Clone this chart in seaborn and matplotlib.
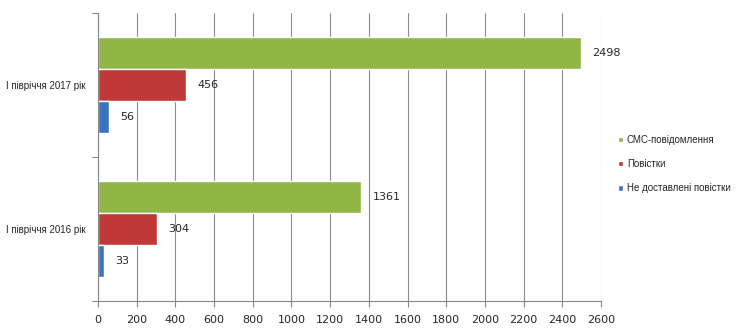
import matplotlib
matplotlib.use("Agg")
import matplotlib.pyplot as plt
import seaborn as sns
import pandas as pd
from matplotlib.ticker import FixedLocator

categories = ["І півріччя 2017 рік", "І півріччя 2016 рік"]
series = ["СМС-повідомлення", "Повістки", "Не доставлені повістки"]
sms = [2498, 1361]
povistky = [456, 304]
ne_dostavleni = [56, 33]
x_ticks = list(range(0, 2601, 200))

rows = []
for i, c in enumerate(categories):
    rows.append((c, series[0], sms[i]))
    rows.append((c, series[1], povistky[i]))
    rows.append((c, series[2], ne_dostavleni[i]))
df = pd.DataFrame(rows, columns=["cat", "series", "value"])

sns.set_style("white")
plt.rcParams['font.family'] = ['Liberation Sans', 'DejaVu Sans']

fig = plt.figure(figsize=(7.36, 3.30), dpi=100)
ax = fig.add_axes([98/736, 1-301/330, (601-98)/736, (301-13)/330])

palette = ["#90b645", "#c03938", "#3a74c0"]
sns.barplot(data=df, y="cat", x="value", hue="series", order=categories,
            hue_order=series, palette=palette, orient="h", width=0.667,
            saturation=1, ax=ax, legend=True)

ax.set_xlim(0, 2600)
ax.set_ylim(1.5, -0.5)
ax.set_xticks(x_ticks)
ax.set_xticklabels([str(t) for t in x_ticks], fontsize=8, family="DejaVu Sans")
ax.set_xlabel("")
ax.set_ylabel("")
ax.set_yticks([0, 1])
ax.set_yticklabels(categories, fontsize=7)
ax.tick_params(axis="y", which="major", left=False, length=0, pad=9)
ax.yaxis.set_minor_locator(FixedLocator([-0.5, 0.5, 1.5]))
ax.tick_params(axis="y", which="minor", left=True, length=4, color="#888888", width=0.8)
ax.tick_params(axis="x", bottom=True, length=4, color="#888888", width=0.8, direction="out", pad=6)
ax.xaxis.grid(True, color="#8c8c8c", linewidth=0.8)
ax.set_axisbelow(True)
for s in ["top", "right"]:
    ax.spines[s].set_visible(False)
for s in ["left", "bottom"]:
    ax.spines[s].set_color("#888888")
    ax.spines[s].set_linewidth(0.8)

for cont in ax.containers:
    ax.bar_label(cont, padding=8, fontsize=8, family="DejaVu Sans")

leg = ax.legend(loc="center left", bbox_to_anchor=(609/736, 166/330),
                bbox_transform=fig.transFigure, frameon=False, fontsize=7,
                handlelength=0.55, handleheight=0.55, handletextpad=0.4,
                labelspacing=1.45)

fig.savefig("out.png", dpi=100)
